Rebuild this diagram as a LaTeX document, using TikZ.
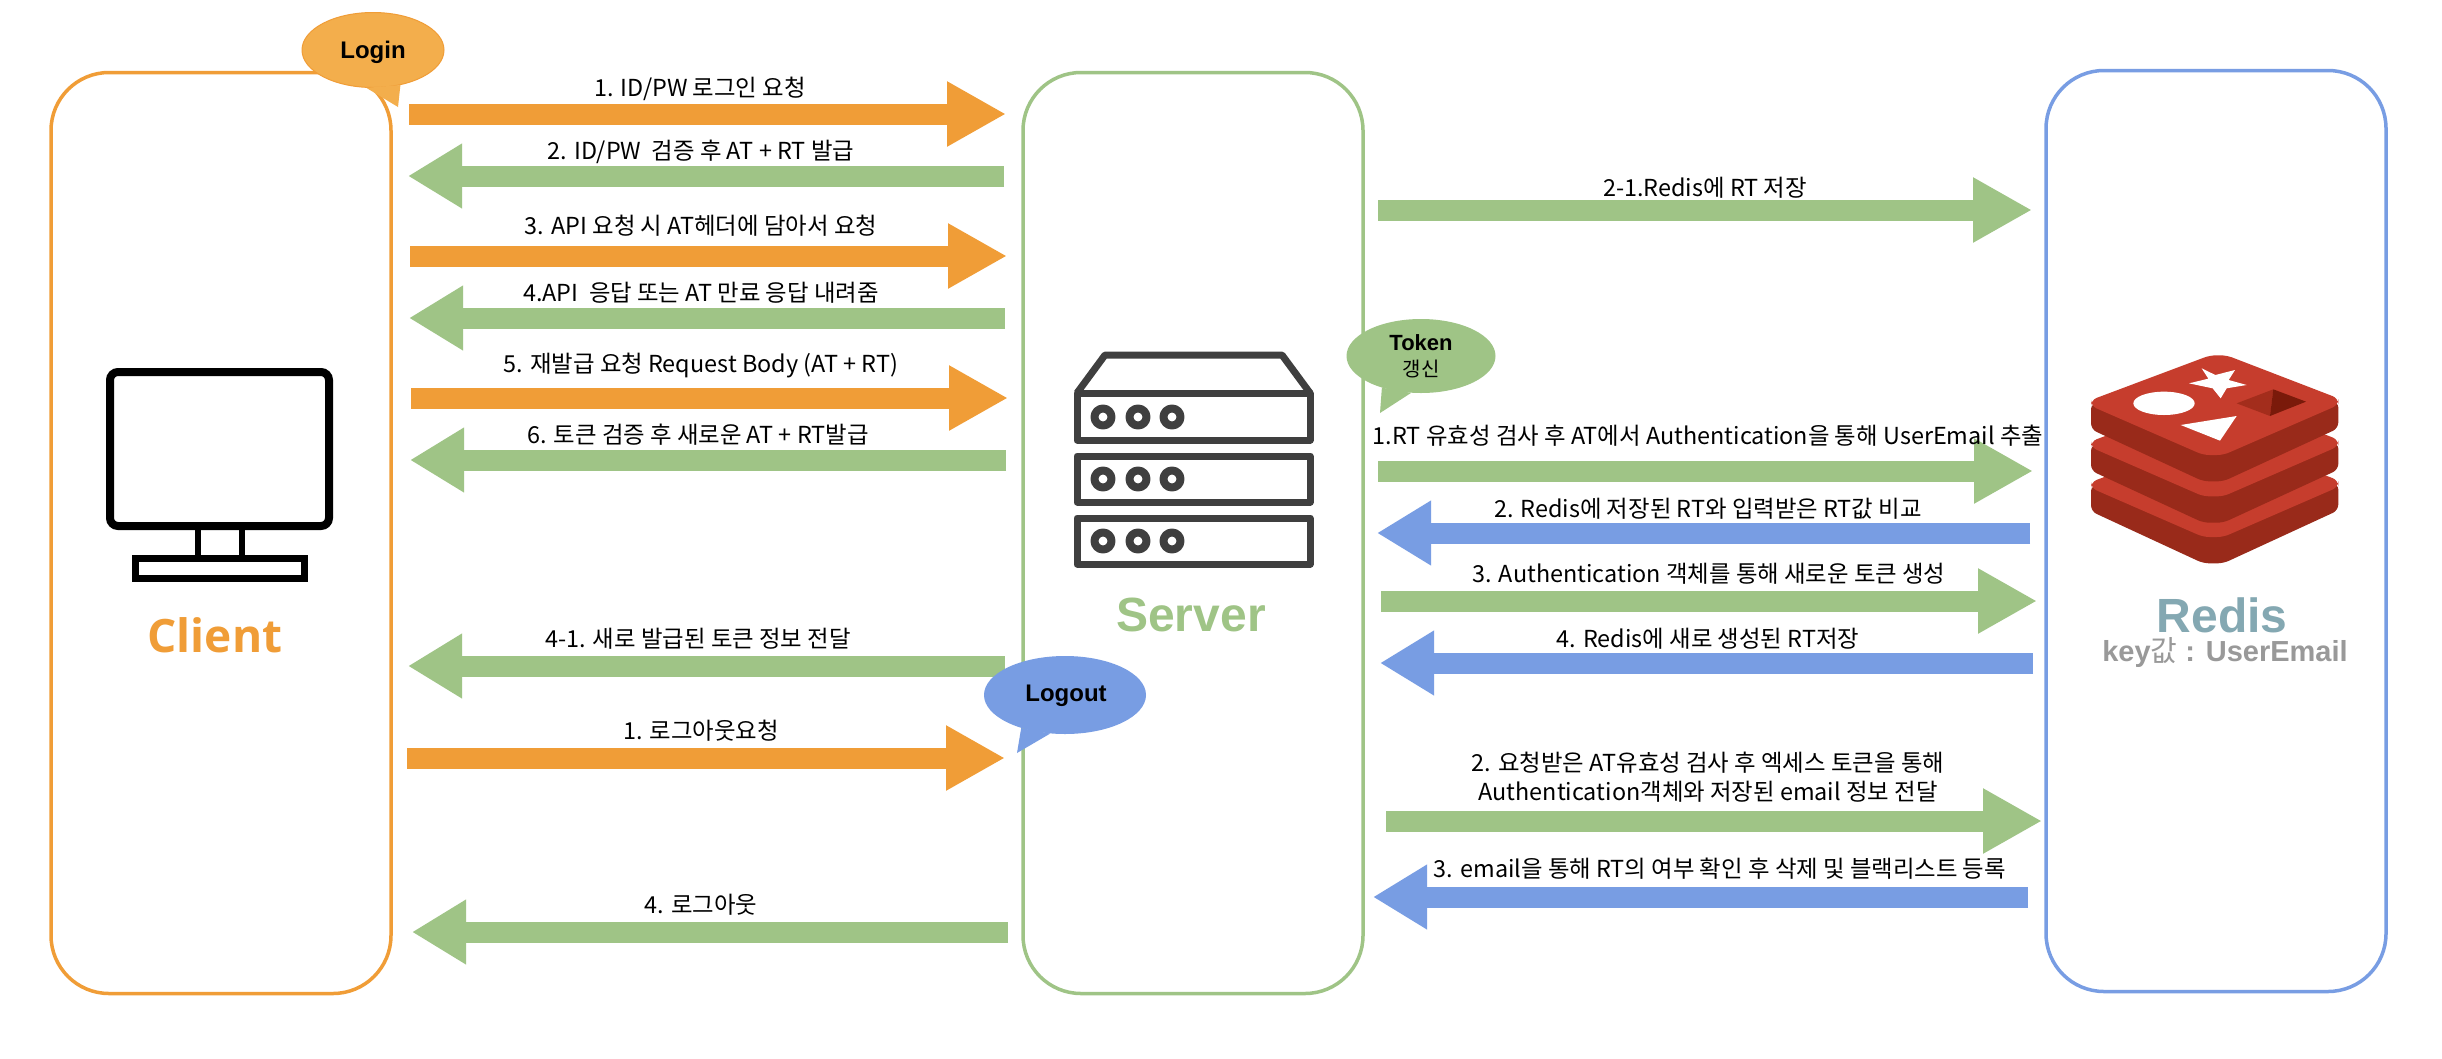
\documentclass[tikz,border=0pt]{standalone}
\usepackage{fontspec}
\usetikzlibrary{arrows.meta,shapes.geometric}
\setmainfont{Noto Sans CJK KR}
\newfontfamily\helfont{Liberation Sans}
\newfontfamily\titlefont{Open Sans}
\newfontfamily\krfont{Noto Sans CJK KR}
\definecolor{cOrange}{HTML}{F09D37}
\definecolor{cOrangeL}{HTML}{F3AE4C}
\definecolor{cGreen}{HTML}{9FC486}
\definecolor{cBlue}{HTML}{789DE3}
\definecolor{cTeal}{HTML}{84A8B2}
\definecolor{cGrey}{HTML}{999999}
\definecolor{cIcon}{HTML}{3F3F3F}
\definecolor{rBright}{HTML}{C63D2D}
\definecolor{rDark}{HTML}{992A1A}
\definecolor{rShadeA}{HTML}{A32D1C}
\definecolor{rShadeB}{HTML}{7A1A0A}
\tikzset{
  panel/.style={draw=#1,line width=3.5pt,rounded corners=58pt,minimum width=340pt,minimum height=921pt,inner sep=0pt},
  rarrow/.style={draw=#1,line width=21pt,-{Triangle[length=59pt,width=61pt,fill=#1]}},
  larrow/.style={draw=#1,line width=21pt,-{Triangle[length=54pt,width=61pt,fill=#1]}},
  lbl/.style={font=\fontsize{23.4}{29}\selectfont,inner sep=0pt,align=center,text=black},
  bubble/.style={ellipse,fill=#1,inner sep=0pt},
  bubbletext/.style={font=\helfont\bfseries\fontsize{24}{28}\selectfont,text=black,align=center},
  title/.style={font=\helfont\bfseries\fontsize{48}{54}\selectfont,inner sep=0pt},
}
\begin{document}
\begin{tikzpicture}[x=1pt,y=-1pt]
\useasboundingbox (0,0) rectangle (2442,1058);
\fill[white] (0,0) rectangle (2442,1058);
% panels
\node[panel=cOrange] (client) at (221,533) {};
\node[panel=cGreen] (server) at (1193,533) {};
\node[panel=cBlue] (redis) at (2216,531) {};
% titles
\node[title,font=\titlefont\bfseries\fontsize{46}{52}\selectfont,text=cOrange] (clientT) at (215,635) {Client};
\node[title,text=cGreen] (serverT) at (1191,615) {Server};
\node[title,text=cTeal] (redisT) at (2222,615) {Redis};
\node[font=\helfont\bfseries\fontsize{29}{33}\selectfont,text=cGrey,inner sep=0pt] (redisK) at (2225,653) {key{\krfont\mdseries 값} : UserEmail};
% monitor icon
\draw[black,line width=8pt,rounded corners=8pt] (110,372) rectangle (329,526);
\draw[black,line width=6pt] (198,530) -- (198,556) (242,530) -- (242,556);
\draw[black,line width=7pt] (135.5,558.5) rectangle (304.5,578.5);
% server icon
\begin{scope}[draw=cIcon,line width=7pt,line join=round]
\draw (1077,393) -- (1105,355) -- (1282,355) -- (1310,393);
\draw (1077,393) rectangle (1310,440);
\draw (1077,456) rectangle (1310,502);
\draw (1077,518) rectangle (1310,564);
\foreach \yy in {417,479,541}\foreach \xx in {1103,1138,1172}
  \draw[line width=8pt] (\xx,\yy) circle[radius=8.5pt];
\end{scope}
% redis logo
\begin{scope}[shift={(2040,320)},x=0.33333pt,y=-0.33333pt]
\foreach \dy in {246,124,0}{
  \fill[rDark,rounded corners=6pt] (153,250+\dy) -- (153,328+\dy) -- (490,484+\dy) -- (550,484+\dy) -- (895,325+\dy) -- (895,245+\dy) -- cycle;
  \fill[rBright,rounded corners=6pt] (510,106+\dy) -- (560,106+\dy) -- (895,235+\dy) -- (895,255+\dy) -- (550,405+\dy) -- (490,405+\dy) -- (153,258+\dy) -- (153,240+\dy) -- cycle;
}
\fill[white] (372,250) ellipse[x radius=92,y radius=35];
\fill[white] (485,145) -- (526,165) -- (585,150) -- (566,180) -- (620,195) -- (560,205) -- (542,235) -- (518,205) -- (447,190) -- (505,176) -- cycle;
\fill[white] (422,315) -- (590,288) -- (540,362) -- cycle;
\fill[rShadeA] (700,208) -- (690,288) -- (590,250) -- cycle;
\fill[rShadeB] (700,208) -- (798,245) -- (690,288) -- cycle;
\end{scope}
% arrow end points
\coordinate (a1s) at (409,114); \coordinate (a1e) at (1006,114);
\coordinate (a2s) at (1004,176); \coordinate (a2e) at (408,176);
\coordinate (a3s) at (410,256); \coordinate (a3e) at (1007,256);
\coordinate (a4s) at (1005,318); \coordinate (a4e) at (409,318);
\coordinate (a5s) at (411,398); \coordinate (a5e) at (1008,398);
\coordinate (a6s) at (1006,460); \coordinate (a6e) at (410,460);
\coordinate (a7s) at (1005,666); \coordinate (a7e) at (408,666);
\coordinate (a8s) at (407,758); \coordinate (a8e) at (1005,758);
\coordinate (a9s) at (1008,932); \coordinate (a9e) at (412,932);
\coordinate (b1s) at (1378,210); \coordinate (b1e) at (2032,210);
\coordinate (b2s) at (1378,471); \coordinate (b2e) at (2033,471);
\coordinate (b3s) at (2030,533); \coordinate (b3e) at (1377,533);
\coordinate (b4s) at (1381,601); \coordinate (b4e) at (2037,601);
\coordinate (b5s) at (2033,663); \coordinate (b5e) at (1380,663);
\coordinate (b6s) at (1386,821); \coordinate (b6e) at (2042,821);
\coordinate (b7s) at (2028,897); \coordinate (b7e) at (1373,897);
% arrows
\draw[rarrow=cOrange] (a1s) -- (a1e);
\draw[larrow=cGreen] (a2s) -- (a2e);
\draw[rarrow=cOrange] (a3s) -- (a3e);
\draw[larrow=cGreen] (a4s) -- (a4e);
\draw[rarrow=cOrange] (a5s) -- (a5e);
\draw[larrow=cGreen] (a6s) -- (a6e);
\draw[larrow=cGreen] (a7s) -- (a7e);
\draw[rarrow=cOrange] (a8s) -- (a8e);
\draw[larrow=cGreen] (a9s) -- (a9e);
\draw[rarrow=cGreen] (b1s) -- (b1e);
\draw[rarrow=cGreen] (b2s) -- (b2e);
\draw[larrow=cBlue] (b3s) -- (b3e);
\draw[rarrow=cGreen] (b4s) -- (b4e);
\draw[larrow=cBlue] (b5s) -- (b5e);
\draw[rarrow=cGreen] (b6s) -- (b6e);
\draw[larrow=cBlue] (b7s) -- (b7e);
% labels
\node[lbl] (l1) at (700,89) {1. ID/PW 로그인 요청};
\node[lbl] (l2) at (701,152) {2. ID/PW\ \ 검증 후 AT + RT 발급};
\node[lbl] (l3) at (701,226) {3. API 요청 시 AT헤더에 담아서 요청};
\node[lbl] (l4) at (701,293) {4.API\ \ 응답 또는 AT 만료 응답 내려줌};
\node[lbl] (l5) at (701,366) {5. 재발급 요청 Request Body (AT + RT)};
\node[lbl] (l6) at (698,435) {6. 토큰 검증 후 새로운 AT + RT발급};
\node[lbl] (l7) at (698,639) {4-1. 새로 발급된 토큰 정보 전달};
\node[lbl] (l8) at (701,731) {1. 로그아웃요청};
\node[lbl] (l9) at (701,905) {4. 로그아웃};
\node[lbl] (m1) at (1705,188) {2-1.Redis에 RT 저장};
\node[lbl] (m2) at (1708,436) {1.RT 유효성 검사 후 AT에서 Authentication을 통해 UserEmail 추출};
\node[lbl] (m3) at (1708,509) {2. Redis에 저장된 RT와 입력받은 RT값 비교};
\node[lbl] (m4) at (1709,574) {3. Authentication 객체를 통해 새로운 토큰 생성};
\node[lbl] (m5) at (1708,639) {4. Redis에 새로 생성된 RT저장};
\node[lbl] (m6) at (1708,777) {2. 요청받은 AT유효성 검사 후 엑세스 토큰을 통해\\Authentication객체와 저장된 email 정보 전달};
\node[lbl] (m7) at (1720,869) {3. email을 통해 RT의 여부 확인 후 삭제 및 블랙리스트 등록};
% callouts
\coordinate (loginTip) at (398,107);
\coordinate (logoutTip) at (1017,753);
\coordinate (tokenTip) at (1380,413);
\node[bubble=cOrangeL,draw=cOrange,line width=1pt,minimum width=142pt,minimum height=75pt] (login) at (373,50) {};
\fill[cOrangeL] (login.-100) -- (loginTip) -- (login.-52) -- cycle;
\node[bubbletext] (loginT) at (373,52) {Login};
\node[bubble=cBlue,minimum width=162pt,minimum height=78pt] (logout) at (1065,695) {};
\fill[cBlue] (logout.-143) -- (logoutTip) -- (logout.-111) -- cycle;
\node[bubbletext] (logoutT) at (1066,696) {Logout};
\node[bubble=cGreen,minimum width=149pt,minimum height=74pt] (token) at (1421,356) {};
\fill[cGreen] (token.-141) -- (tokenTip) -- (token.-105) -- cycle;
\node[bubbletext,font=\helfont\bfseries\fontsize{22}{26}\selectfont,inner sep=0pt] (tokenT) at (1421,343) {Token};
\node[bubbletext,font=\krfont\fontsize{20}{22}\selectfont,inner sep=0pt] (tokenK) at (1421,369) {갱신};
\end{tikzpicture}
\end{document}
